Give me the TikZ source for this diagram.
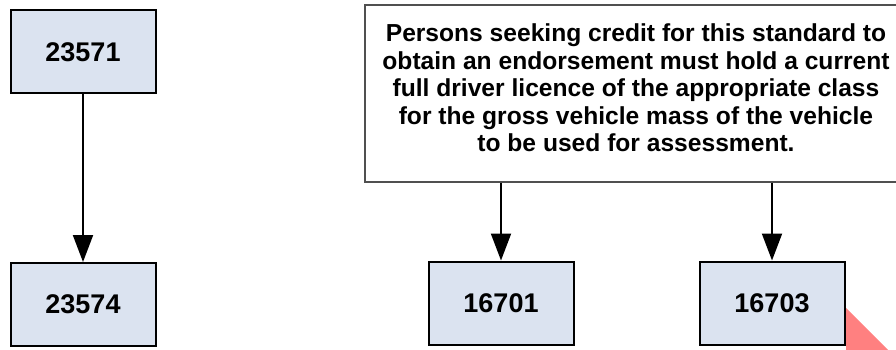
\documentclass[tikz,border=0pt]{standalone}
\usepackage{fontspec}
\setmainfont{Liberation Sans}
\usetikzlibrary{arrows.meta}
\definecolor{boxfill}{RGB}{219,227,240}
\definecolor{notegray}{RGB}{80,80,80}
\definecolor{pinkmark}{RGB}{255,128,128}
\begin{document}
\begin{tikzpicture}[x=1pt,y=-1pt,
  numbox/.style={draw=black, line width=2pt, fill=boxfill, minimum width=145pt, minimum height=83pt, inner sep=0pt, font=\fontsize{27}{30}\selectfont\bfseries},
  notebox/.style={draw=notegray, line width=1.3pt, fill=white, minimum width=540pt, minimum height=177pt, inner sep=0pt},
  notetext/.style={align=center, font=\fontsize{24.6}{27.6}\selectfont\bfseries, inner sep=0pt},
  link/.style={line width=2pt, -{Triangle[length=27pt,width=20pt]}}]
\useasboundingbox (0,0) rectangle (896,350);
\node[numbox] (n23571) at (83,52) {23571};
\node[numbox] (n23574) at (83,304.5) {23574};
\node[numbox] (n16701) at (501,303) {16701};
\node[numbox] (n16703) at (772,303) {16703};
\node[notebox] (note) at (635,93.5) {};
\node[notetext] (notet) at (636,88) {Persons seeking credit for this standard to\\obtain an endorsement must hold a current\\full driver licence of the appropriate class\\for the gross vehicle mass of the vehicle\\to be used for assessment.};
\draw[link] (n23571) -- (n23574);
\draw[link] (note.south -| n16701.north) -- (n16701.north);
\draw[link] (note.south -| n16703.north) -- (n16703.north);
\fill[pinkmark] (846,308) -- (846,360) -- (898,360) -- cycle;
\end{tikzpicture}
\end{document}
